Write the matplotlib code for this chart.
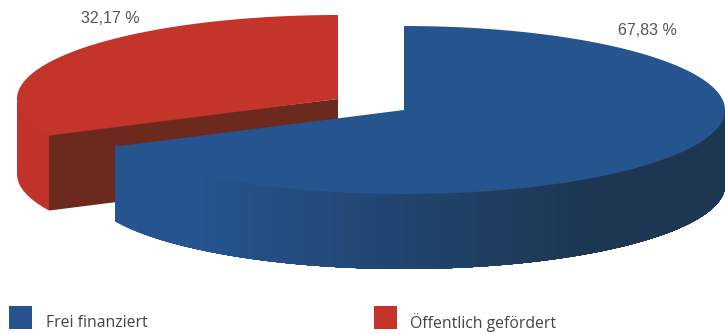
import numpy as np
import matplotlib
matplotlib.use('Agg')
import matplotlib.pyplot as plt
from matplotlib.colors import to_rgb

# Data
categories = ['Frei finanziert', 'Öffentlich gefördert']
shares = [67.83, 32.17]
share_labels = ['67,83 %', '32,17 %']


def ellipse(cx, cy, rx, ry, a0, a1, n=200):
    t = np.radians(np.linspace(a0, a1, n))
    return cx + rx * np.cos(t), cy - ry * np.sin(t)


def blend(c0, c1, f):
    c0, c1 = np.array(to_rgb(c0)), np.array(to_rgb(c1))
    return tuple(c0 + (c1 - c0) * f)


def side(ax, cx, cy, rx, ry, depth, a0, a1, color):
    # starts a little above the rim, the top face covers the overlap
    x, y = ellipse(cx, cy, rx, ry, a0, a1, 120)
    ax.fill(np.r_[x, x[::-1]], np.r_[y - 2, y[::-1] + depth], color=color, lw=0)


def main():
    fig = plt.figure(figsize=(7.25, 3.34), dpi=100)
    ax = fig.add_axes([0, 0, 1, 1])
    ax.set_xlim(0, 725)
    ax.set_ylim(334, 0)
    ax.axis('off')

    rx, ry, depth = 321, 84, 75
    blue, red = '#25548f', '#c4342a'

    # Red slice, runs counter clockwise from the top
    cx, cy = 338, 99
    end = 90 + shares[1] * 3.6
    side(ax, cx, cy, rx, ry, depth, 180, end, '#c1332a')
    ex, ey = ellipse(cx, cy, rx, ry, end, end, 1)
    ax.fill([cx, ex[0], ex[0], cx], [cy, ey[0] - 2, ey[0] + depth, cy + depth],
            color='#6c2a1e', lw=0)
    x, y = ellipse(cx, cy, rx, ry, 90, end)
    ax.fill(np.r_[cx, x], np.r_[cy, y], color=red, lw=0)

    # Blue slice, runs clockwise from the top
    # every strip reaches to the end of the arc so no seams show between them
    cx, cy = 404, 110
    start = 90 - shares[0] * 3.6
    for a in np.linspace(start, 0, 60, endpoint=False):
        f = np.clip((cx + rx * np.cos(np.radians(a)) - 190) / 390, 0, 1)
        side(ax, cx, cy, rx, ry, depth, a, 0, blend(blue, '#1d3752', f))
    x, y = ellipse(cx, cy, rx, ry, start, 90, 400)
    ax.fill(np.r_[cx, x], np.r_[cy, y], color=blue, lw=0)

    # Labels
    pct = dict(family='Liberation Sans', fontsize=11.5, color='#555555', va='center')
    ax.text(618, 30.5, share_labels[0], **pct)
    ax.text(81, 18.5, share_labels[1], **pct)

    # Legend
    for x0, tx, name, c in zip([9, 374], [46, 410], categories, [blue, red]):
        ax.fill([x0, x0 + 23, x0 + 23, x0], [306, 306, 329, 329], color=c, lw=0)
        ax.text(tx, 323, name, family='Open Sans', fontsize=11.3,
                color='#444444', va='center')

    plt.savefig('out.png', dpi=100)


if __name__ == '__main__':
    main()
